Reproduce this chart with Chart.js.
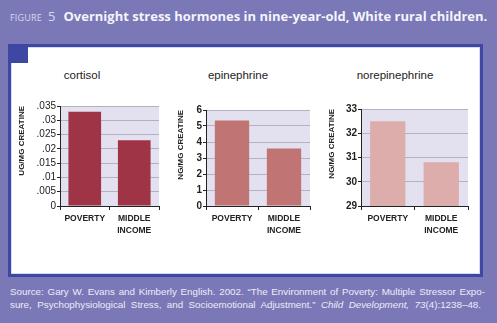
<!DOCTYPE html>
<html><head><meta charset="utf-8">
<script src="https://cdn.jsdelivr.net/npm/chart.js@4/dist/chart.umd.min.js"></script>
<style>
html,body{margin:0;padding:0;}
body{width:497px;height:323px;background:#7b78b8;position:relative;overflow:hidden;font-family:"Liberation Sans",Arial,sans-serif;}
#title{position:absolute;left:10px;top:7px;white-space:nowrap;color:#f4f4fb;font-family:"Open Sans",sans-serif;font-weight:700;font-size:13px;}
#title .fig{font-weight:400;font-size:9px;color:#d8d8ef;letter-spacing:0.2px;margin-right:6px;}
#title .num{font-weight:400;font-size:13px;color:#d8d8ef;margin-right:8px;}
#panel{position:absolute;left:8px;top:44px;width:469px;height:227px;border:3px solid #3e47a2;background:#fff;box-shadow:inset 0 0 0 1px #d4daf4;}
#tab{position:absolute;left:8px;top:44px;width:20px;height:19px;background:#3e47a2;}
.ct{position:absolute;top:69px;font-size:11.5px;color:#222;font-family:"Liberation Sans",Arial,sans-serif;transform:translateX(-50%);white-space:nowrap;}
canvas{position:absolute;}
.src{position:absolute;left:10px;width:475px;font-size:9.8px;color:#ececf7;text-align:justify;text-align-last:justify;white-space:nowrap;}
</style></head>
<body>
<div id="title"><span class="fig">FIGURE</span><span class="num">5</span>Overnight stress hormones in nine-year-old, White rural children.</div>
<div id="panel"></div>
<div id="tab"></div>
<div class="ct" style="left:82px">cortisol</div>
<div class="ct" style="left:238px">epinephrine</div>
<div class="ct" style="left:395px">norepinephrine</div>
<canvas id="c1" width="156" height="140" style="left:12px;top:96px"></canvas>
<canvas id="c2" width="148" height="140" style="left:171px;top:96px"></canvas>
<canvas id="c3" width="155" height="140" style="left:322px;top:96px"></canvas>
<div class="src" style="top:286px">Source: Gary W. Evans and Kimberly English. 2002. “The Environment of Poverty: Multiple Stressor Expo-</div>
<div class="src" style="top:299px;width:471px">sure, Psychophysiological Stress, and Socioemotional Adjustment.” <i>Child Development,</i> <i>73</i>(4):1238–48.</div>
<script>
const categories = [['POVERTY'], ['MIDDLE', 'INCOME']];
const cortisol = [0.033, 0.023];
const epinephrine = [5.35, 3.6];
const norepinephrine = [32.5, 30.8];
const cortisolTicks = ['0', '.005', '.01', '.015', '.02', '.025', '.03', '.035'];
const epinephrineTicks = ['0', '1', '2', '3', '4', '5', '6'];
const norepinephrineTicks = ['29', '30', '31', '32', '33'];
const axisTitles = ['UG/MG CREATINE', 'NG/MG CREATINE', 'NG/MG CREATINE'];

const plotBg = {
  id: 'plotBg',
  beforeDraw(chart) {
    const {ctx, chartArea: a} = chart;
    ctx.save();
    ctx.fillStyle = '#e3e1ef';
    ctx.fillRect(a.left, a.top, a.right - a.left, a.bottom - a.top);
    ctx.restore();
  }
};

function make(id, data, color, min, max, step, tickLabels, title, yWidth, padTop, tickBold) {
  new Chart(document.getElementById(id), {
    type: 'bar',
    data: { labels: categories, datasets: [{ data: data, backgroundColor: color, categoryPercentage: 1, barPercentage: 0.66 }] },
    options: {
      responsive: false, animation: false,
      layout: { padding: { top: padTop, right: 9, bottom: 0, left: 0 } },
      plugins: { legend: { display: false }, tooltip: { enabled: false } },
      scales: {
        x: {
          offset: true,
          afterFit(s) { s.height = 30; },
          grid: { display: true, drawOnChartArea: false, drawTicks: true, tickLength: 4, tickColor: '#222', offset: true },
          border: { color: '#222', width: 1 },
          ticks: { color: '#222', padding: 3, maxRotation: 0, autoSkip: false, font: { family: 'Liberation Sans', size: 8.5, weight: 'bold', lineHeight: 1.35 } }
        },
        y: {
          min: min, max: max,
          afterFit(s) { s.width = yWidth; },
          grid: { color: '#b3b2c0', lineWidth: 1, tickLength: 3, tickColor: '#222' },
          border: { color: '#222', width: 1 },
          ticks: { stepSize: step, autoSkip: false, color: '#222', padding: 1, font: { family: 'Liberation Sans', size: 10, weight: tickBold ? 'bold' : 'normal' },
                   callback: (v, i) => tickLabels[i] },
          title: { display: true, text: title, align: 'end', color: '#222', padding: { top: 5, bottom: 0 }, font: { family: 'Liberation Sans', size: 8, weight: 'bold' } }
        }
      }
    },
    plugins: [plotBg]
  });
}

make('c1', cortisol, '#9e3445', 0, 0.035, 0.005, cortisolTicks, axisTitles[0], 48, 10, false);
make('c2', epinephrine, '#c07574', 0, 6, 1, epinephrineTicks, axisTitles[1], 35, 14, true);
make('c3', norepinephrine, '#dcadab', 29, 33, 1, norepinephrineTicks, axisTitles[2], 39, 13, true);
</script>
</body></html>
